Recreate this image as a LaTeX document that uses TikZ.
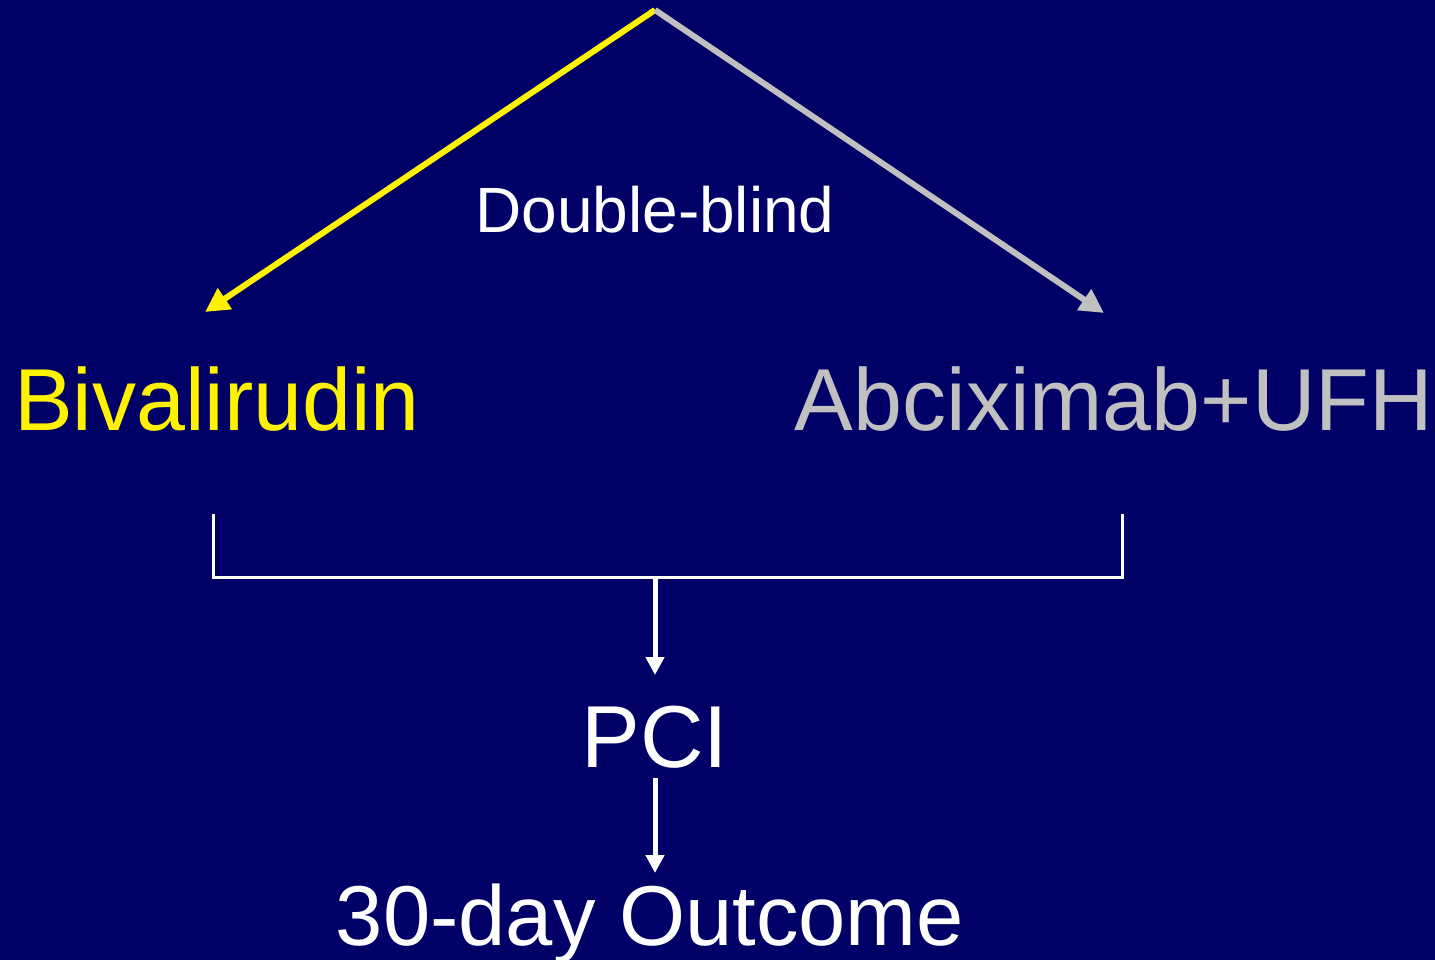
\documentclass[tikz,border=0pt]{standalone}
\usepackage{fontspec}
\setmainfont{Liberation Sans}
\usetikzlibrary{arrows.meta}
\definecolor{bg}{HTML}{000066}
\definecolor{lgray}{HTML}{C0C0C0}
\begin{document}
\begin{tikzpicture}[x=1pt,y=-1pt,
  big/.style={inner sep=0pt,anchor=base,font=\fontsize{88}{100}\selectfont},
  mid/.style={inner sep=0pt,anchor=base,font=\fontsize{64}{74}\selectfont},
  tip/.style={-{Triangle[length=24pt,width=24pt]}},
  vtip/.style={-{Triangle[length=18pt,width=18pt]}},
  thinw/.style={draw=white,line width=3pt},
]
\fill[bg] (0,0) rectangle (1435,960);
\useasboundingbox (0,0) rectangle (1435,960);
\coordinate (apex) at (655,10);
\coordinate (ltip) at (205,312);
\coordinate (rtip) at (1104,313);
\coordinate (bl) at (213,514);
\coordinate (blc) at (213,577);
\coordinate (br) at (1122,514);
\coordinate (brc) at (1122,577);
\coordinate (mid) at (655,577);
\coordinate (pcitop) at (655,675);
\coordinate (pcibot) at (655,778);
\coordinate (outtop) at (655,873);
\node[mid,text=white] (db) at (655,233) {Double-blind};
\node[big,text=yellow] (biv) at (217,430) {Bivalirudin};
\node[big,text=lgray] (abc) at (1114,430) {Abciximab+UFH};
\node[big,text=white] (pci) at (655,767) {PCI};
\node[inner sep=0pt,anchor=base,font=\fontsize{85}{96}\selectfont,text=white] (out) at (650,945) {30-day Outcome};
\draw[tip,yellow,line width=6pt] (apex) -- (ltip);
\draw[tip,lgray,line width=6pt] (apex) -- (rtip);
\draw[thinw] (bl) -- (blc) -- (brc) -- (br);
\draw[vtip,white,line width=5pt] (mid) -- (pcitop);
\draw[vtip,white,line width=5pt] (pcibot) -- (outtop);
\end{tikzpicture}
\end{document}
